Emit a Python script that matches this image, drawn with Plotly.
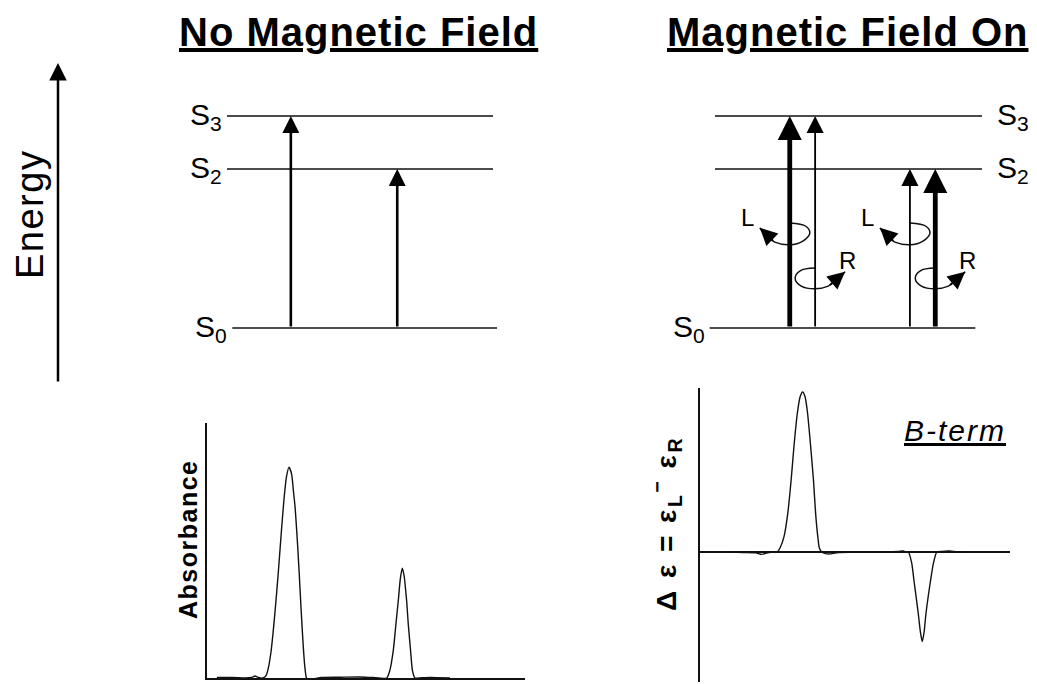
import plotly.graph_objects as go

W, H = 1037, 684
OFF = 8  # page body margin of the written html
WF, HF = W - OFF, H - OFF
FONT = "Liberation Sans, Arial, Helvetica, sans-serif"
INK = "#111111"

# ---------------- data ----------------
level_names = ["S<sub>0</sub>", "S<sub>2</sub>", "S<sub>3</sub>"]
level_energy = [0.0, 3.0, 4.0]
left_level_x0 = [0.2, 0.0, 0.0]
left_level_x1 = [10.15, 10.0, 10.0]
right_level_x0 = [-0.2, 0.0, 0.0]
right_level_x1 = [9.75, 10.0, 10.0]

left_trans_x = [2.4, 6.4]
left_trans_to = [4.0, 3.0]

right_trans_x = [2.8, 3.75, 7.3, 8.25]
right_trans_to = [4.0, 4.0, 3.0, 3.0]
right_trans_thick = [True, False, False, True]
right_trans_pol = ["L", "R", "L", "R"]

# circular-polarisation loops (offsets from the transition they circle)
loopL_dx = [0.0, 0.6, 0.75, 0.49, 0.0, -0.56, -0.9, -1.12]
loopL_E = [1.98, 1.92, 1.79, 1.64, 1.57, 1.62, 1.74, 1.89]
loopR_dx = [0.0, -0.56, -0.75, -0.52, 0.0, 0.49, 0.82, 1.12]
loopR_E = [1.13, 1.08, 0.94, 0.79, 0.74, 0.79, 0.91, 1.06]
pol_label_dx = {"L": -1.57, "R": 1.2}
pol_label_E = {"L": 2.08, "R": 1.28}

# absorption spectrum
abs_x = [3.1, 8.0, 12.0, 14.0, 15.1, 16.2, 17.6, 18.6, 19.3, 20.1, 20.8, 21.6, 22.4, 23.3,
         24.2, 25.0, 25.8, 26.6, 27.2, 27.7, 28.4, 29.0, 29.5, 30.0, 30.4, 30.8, 31.3, 32.0,
         36.0, 42.0, 48.0, 52.0, 56.5, 57.5, 58.6, 59.4, 60.2, 60.8, 61.4, 62.0, 62.5, 62.8,
         63.3, 64.0, 64.6, 65.4, 66.5, 70.0, 76.4]
abs_y = [0.002, 0.002, 0.0, 0.002, 0.008, 0.002, 0.0, 0.01, 0.04, 0.10, 0.18, 0.29, 0.41, 0.56,
         0.70, 0.79, 0.827, 0.80, 0.73, 0.67, 0.54, 0.41, 0.29, 0.18, 0.10, 0.04, 0.0, -0.005,
         0.002, 0.003, 0.004, 0.002, 0.0, 0.03, 0.11, 0.21, 0.31, 0.39, 0.431, 0.40, 0.34, 0.30,
         0.21, 0.11, 0.03, 0.0, 0.0, 0.002, 0.0]

# MCD (B-term) spectrum
mcd_x = [9.7, 14.0, 18.0, 19.9, 21.8, 24.0, 24.9, 25.8, 27.1, 28.3, 29.4, 30.3, 31.4, 32.3,
         33.1, 33.9, 34.7, 35.7, 36.6, 37.3, 38.0, 38.5, 39.3, 40.5, 41.9, 44.0, 50.0, 56.0,
         60.0, 64.0, 65.6, 66.5, 67.2, 68.3, 69.0, 70.4, 71.1, 71.7, 72.3, 72.9, 74.4, 75.3,
         76.4, 78.0, 80.6, 83.0, 87.1]
mcd_y = [0.0, -0.003, -0.005, -0.015, -0.005, 0.0, 0.0, 0.025, 0.096, 0.24, 0.45, 0.658, 0.867,
         0.97, 1.0, 0.97, 0.867, 0.658, 0.45, 0.24, 0.096, 0.025, 0.0, -0.01, -0.012, -0.005,
         0.0, 0.0, 0.0, 0.003, 0.006, 0.0, 0.0, -0.07, -0.175, -0.383, -0.50, -0.56, -0.50,
         -0.383, -0.175, -0.07, 0.0, 0.004, 0.006, 0.0, 0.0]


# ---------------- layout helpers (reference pixel -> paper) ----------------
def fx(p):
    return (p - OFF) / WF


def fy(p):
    return 1 - (p - OFF) / HF


def calib(d0, p0, d1, p1, q0, q1):
    f = lambda q: d0 + (q - p0) * (d1 - d0) / (p1 - p0)
    return [f(q0), f(q1)]


hidden = dict(visible=False, showgrid=False, zeroline=False, fixedrange=True)

fig = go.Figure()

E_range = calib(0, 328, 4, 116, 345, 95)
E_dom = [fy(345), fy(95)]

layout_axes = dict(
    xaxis=dict(domain=[fx(150), fx(530)], range=calib(0, 227, 10, 493, 150, 530), anchor="y", **hidden),
    yaxis=dict(domain=E_dom, range=E_range, anchor="x", **hidden),
    xaxis2=dict(domain=[fx(655), fx(1035)], range=calib(0, 715, 10, 982, 655, 1035), anchor="y2", **hidden),
    yaxis2=dict(domain=E_dom, range=E_range, anchor="x2", **hidden),
    xaxis3=dict(domain=[fx(207), fx(525)], range=[0, 100], anchor="y3", showline=True, linecolor=INK,
                linewidth=1.5, showticklabels=False, ticks="", showgrid=False, zeroline=False, fixedrange=True),
    yaxis3=dict(domain=[fy(678), fy(423)], range=[0, 1], anchor="x3", showline=True, linecolor=INK,
                linewidth=1.5, showticklabels=False, ticks="", showgrid=False, zeroline=False, fixedrange=True),
    xaxis4=dict(domain=[fx(700), fx(1010)], range=[0, 100], anchor="y4", visible=False, showgrid=False,
                zeroline=False, fixedrange=True),
    yaxis4=dict(domain=[fy(682), fy(388)], range=calib(0, 552, 1, 392, 682, 388), anchor="x4",
                showline=True, linecolor=INK, linewidth=1.5, showticklabels=False, ticks="",
                showgrid=False, zeroline=True, zerolinecolor=INK, zerolinewidth=1.5, fixedrange=True),
)

annotations = []


def level_trace(x0s, x1s, xa, ya):
    xs, ys = [], []
    for a, b, e in zip(x0s, x1s, level_energy):
        xs += [a, b, None]
        ys += [e, e, None]
    return go.Scatter(x=xs, y=ys, mode="lines", line=dict(color=INK, width=1.5),
                      xaxis=xa, yaxis=ya, hoverinfo="skip", showlegend=False)


def up_arrow(x, e_to, xref, yref, width, size):
    annotations.append(dict(x=x, y=e_to, ax=x, ay=level_energy[0], xref=xref, yref=yref,
                            axref=xref, ayref=yref, text="", showarrow=True, arrowhead=2,
                            arrowwidth=width, arrowsize=size, arrowcolor="#000000", standoff=0))


S_FONT = dict(family=FONT, size=30, color="#000")

# ----- left energy diagram -----
fig.add_trace(level_trace(left_level_x0, left_level_x1, "x", "y"))
for tx, te in zip(left_trans_x, left_trans_to):
    up_arrow(tx, te, "x", "y", 2.6, 1.3)
for name, e, x0 in zip(level_names, level_energy, left_level_x0):
    annotations.append(dict(x=x0, y=e, xref="x", yref="y", text=name, showarrow=False,
                            xanchor="right", yanchor="middle", xshift=-3, yshift=-1, font=S_FONT))

# ----- right energy diagram -----
fig.add_trace(level_trace(right_level_x0, right_level_x1, "x2", "y2"))
for tx, te, thick in zip(right_trans_x, right_trans_to, right_trans_thick):
    if thick:
        up_arrow(tx, te, "x2", "y2", 4.8, 1.0)
    else:
        up_arrow(tx, te, "x2", "y2", 1.8, 1.9)
for i, (name, e) in enumerate(zip(level_names, level_energy)):
    if i == 0:
        annotations.append(dict(x=right_level_x0[i], y=e, xref="x2", yref="y2", text=name,
                                showarrow=False, xanchor="right", yanchor="middle", xshift=-3, yshift=-1,
                                font=S_FONT))
    else:
        annotations.append(dict(x=right_level_x1[i], y=e, xref="x2", yref="y2", text=name,
                                showarrow=False, xanchor="left", yanchor="middle", xshift=13, yshift=-1,
                                font=S_FONT))

for tx, pol in zip(right_trans_x, right_trans_pol):
    dxs, es = (loopL_dx, loopL_E) if pol == "L" else (loopR_dx, loopR_E)
    lx = [tx + d for d in dxs]
    fig.add_trace(go.Scatter(x=lx, y=es, mode="lines", line=dict(color=INK, width=1.5, shape="spline"),
                             xaxis="x2", yaxis="y2", hoverinfo="skip", showlegend=False))
    annotations.append(dict(x=lx[-1], y=es[-1], ax=lx[-3], ay=es[-3], xref="x2", yref="y2",
                            axref="x2", ayref="y2", text="", showarrow=True, arrowhead=2,
                            arrowwidth=1.5, arrowsize=2.3, arrowcolor="#000", standoff=0))
    annotations.append(dict(x=tx + pol_label_dx[pol], y=pol_label_E[pol], xref="x2", yref="y2",
                            text=pol, showarrow=False, font=dict(family=FONT, size=24, color="#000")))

# ----- spectra -----
fig.add_trace(go.Scatter(x=abs_x, y=abs_y, mode="lines", line=dict(color=INK, width=1.4, shape="spline",
                         smoothing=0.6), xaxis="x3", yaxis="y3", hoverinfo="skip", showlegend=False))
fig.add_trace(go.Scatter(x=mcd_x, y=mcd_y, mode="lines", line=dict(color=INK, width=1.4, shape="spline",
                         smoothing=0.6), xaxis="x4", yaxis="y4", hoverinfo="skip", showlegend=False))

# ----- texts -----
annotations += [
    dict(x=fx(358), y=fy(32), xref="paper", yref="paper", showarrow=False,
         text='<b><u><span style="letter-spacing:1px">No Magnetic Field</span></u></b>',
         font=dict(family=FONT, size=40, color="#000"), xanchor="center", yanchor="middle"),
    dict(x=fx(847), y=fy(32), xref="paper", yref="paper", showarrow=False,
         text='<b><u><span style="letter-spacing:1px">Magnetic Field On</span></u></b>',
         font=dict(family=FONT, size=40, color="#000"), xanchor="center", yanchor="middle"),
    dict(x=fx(30), y=fy(215), xref="paper", yref="paper", showarrow=False, textangle=-90,
         text='<span style="letter-spacing:1.5px">Energy</span>',
         font=dict(family=FONT, size=38, color="#000"), xanchor="center", yanchor="middle"),
    dict(x=fx(58), y=fy(63), ax=0, ay=320, xref="paper", yref="paper", axref="pixel",
         ayref="pixel", text="", showarrow=True, arrowhead=2, arrowwidth=2.5, arrowsize=1.4,
         arrowcolor="#000", standoff=0),
    dict(x=fx(188), y=fy(540), xref="paper", yref="paper", showarrow=False, textangle=-90,
         text='<b><span style="letter-spacing:1.5px">Absorbance</span></b>',
         font=dict(family=FONT, size=25, color="#000"), xanchor="center", yanchor="middle"),
    dict(x=fx(666), y=fy(524), xref="paper", yref="paper", showarrow=False, textangle=-90,
         text='<b><span style="letter-spacing:2.5px">Δ ε = ε<sub>L</sub><sup>−</sup> ε<sub>R</sub></span></b>',
         font=dict(family=FONT, size=28, color="#000"), xanchor="center", yanchor="middle"),
    dict(x=fx(955), y=fy(430), xref="paper", yref="paper", showarrow=False,
         text='<i><u><span style="letter-spacing:2px">B-term</span></u></i>',
         font=dict(family=FONT, size=30, color="#000"), xanchor="center", yanchor="middle"),
]

fig.update_layout(
    width=WF, height=HF, margin=dict(l=0, r=0, t=0, b=0),
    paper_bgcolor="white", plot_bgcolor="rgba(0,0,0,0)",
    showlegend=False, annotations=annotations, **layout_axes,
)

fig.write_html("out.html")
